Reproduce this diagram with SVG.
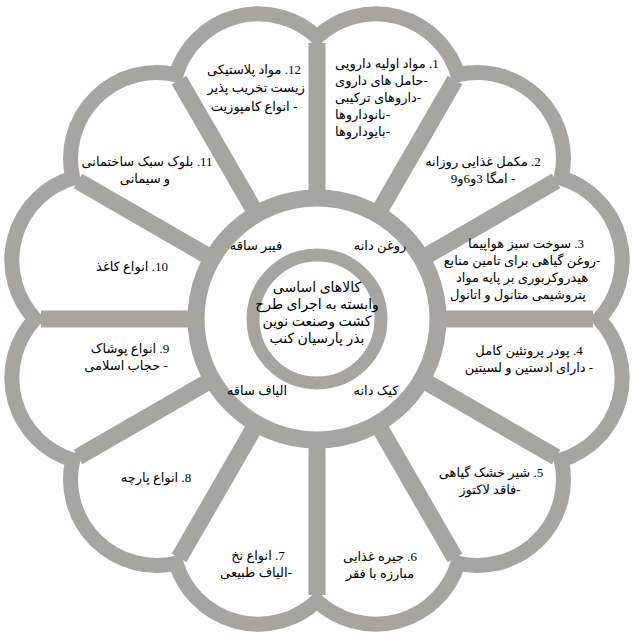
<svg xmlns="http://www.w3.org/2000/svg" width="633" height="639" viewBox="0 0 633 639">
<style>
.g{fill:none;stroke:#a8a5a1}
.t{font-family:"Liberation Serif","DejaVu Sans",serif;font-size:13px;fill:#000;direction:rtl;unicode-bidi:embed}
.c{text-anchor:middle}
.l{text-anchor:end}
.ctr{font-size:14px}
</style>
<rect width="633" height="639" fill="#fff"/>
<g id="connectors" class="g" stroke-width="17">
<line x1="438" y1="319" x2="593" y2="319"/>
<line x1="421.79" y1="379.5" x2="556.02" y2="457"/>
<line x1="377.5" y1="423.79" x2="455" y2="558.02"/>
<line x1="317" y1="440" x2="317" y2="595"/>
<line x1="256.5" y1="423.79" x2="179" y2="558.02"/>
<line x1="212.21" y1="379.5" x2="77.98" y2="457"/>
<line x1="196" y1="319" x2="41" y2="319"/>
<line x1="212.21" y1="258.5" x2="77.98" y2="181"/>
<line x1="256.5" y1="214.21" x2="179" y2="79.98"/>
<line x1="317" y1="198" x2="317" y2="43"/>
<line x1="377.5" y1="214.21" x2="455" y2="79.98"/>
<line x1="421.79" y1="258.5" x2="556.02" y2="181"/>
</g>
<g id="rings" class="g">
<path stroke-width="15" d="M599,319 A86,86 0 0 1 561.22,460 A86,86 0 0 1 458,563.22 A86,86 0 0 1 317,601 A86,86 0 0 1 176,563.22 A86,86 0 0 1 72.78,460 A86,86 0 0 1 35,319 A86,86 0 0 1 72.78,178 A86,86 0 0 1 176,74.78 A86,86 0 0 1 317,37 A86,86 0 0 1 458,74.78 A86,86 0 0 1 561.22,178 A86,86 0 0 1 599,319 Z"/>
<circle cx="317" cy="319" r="121" stroke-width="17"/>
<circle cx="317" cy="319" r="64" stroke-width="13"/>
</g>
<g id="sector-1" class="t l">
<text x="335" y="68">1. مواد اولیه دارویی</text>
<text x="335" y="85">-حامل های داروی</text>
<text x="335" y="102">-داروهای ترکیبی</text>
<text x="335" y="119">-نانوداروها</text>
<text x="335" y="136">-بایوداروها</text>
</g>
<g id="sector-2" class="t c">
<text x="483" y="166">2. مکمل غذایی روزانه</text>
<text x="483" y="183">- امگا 3و6و9</text>
</g>
<g id="sector-3" class="t c">
<text x="526" y="248">3. سوخت سبز هواپیما</text>
<text x="522" y="265">-روغن گیاهی برای تامین منابع</text>
<text x="522" y="282">هیدروکربوری بر پایه مواد</text>
<text x="518" y="299">پتروشیمی متانول و اتانول</text>
</g>
<g id="sector-4" class="t c">
<text x="529" y="355">4. پودر پروتئین کامل</text>
<text x="529" y="372">- دارای ادستین و لسیتین</text>
</g>
<g id="sector-5" class="t c">
<text x="491" y="477">5. شیر خشک گیاهی</text>
<text x="490" y="494">-فاقد لاکتوز</text>
</g>
<g id="sector-6" class="t c">
<text x="380" y="561">6. جیره غذایی</text>
<text x="380" y="578">مبارزه با فقر</text>
</g>
<g id="sector-7" class="t c">
<text x="258" y="560">7. انواع نخ</text>
<text x="256" y="577">-الیاف طبیعی</text>
</g>
<g id="sector-8" class="t c">
<text x="156" y="482">8. انواع پارچه</text>
</g>
<g id="sector-9" class="t c">
<text x="130" y="353">9. انواع پوشاک</text>
<text x="126" y="370">- حجاب اسلامی</text>
</g>
<g id="sector-10" class="t c">
<text x="132" y="271">10. انواع کاغذ</text>
</g>
<g id="sector-11" class="t c">
<text x="147" y="166">11. بلوک سبک ساختمانی</text>
<text x="145" y="183">و سیمانی</text>
</g>
<g id="sector-12" class="t c">
<text x="254" y="74">12. مواد پلاستیکی</text>
<text x="256" y="92">زیست تخریب پذیر</text>
<text x="254" y="111">- انواع کامپوزیت</text>
</g>
<g id="inner" class="t c">
<text x="256" y="250">فیبر ساقه</text>
<text x="380" y="250">روغن دانه</text>
<text x="257" y="395">الیاف ساقه</text>
<text x="376" y="395">کیک دانه</text>
</g>
<g id="center" class="t c ctr">
<text x="317" y="292">کالاهای اساسی</text>
<text x="317" y="309">وابسته به اجرای طرح</text>
<text x="317" y="326">کشت وصنعت نوین</text>
<text x="317" y="343">بذر پارسیان کنب</text>
</g>
</svg>
